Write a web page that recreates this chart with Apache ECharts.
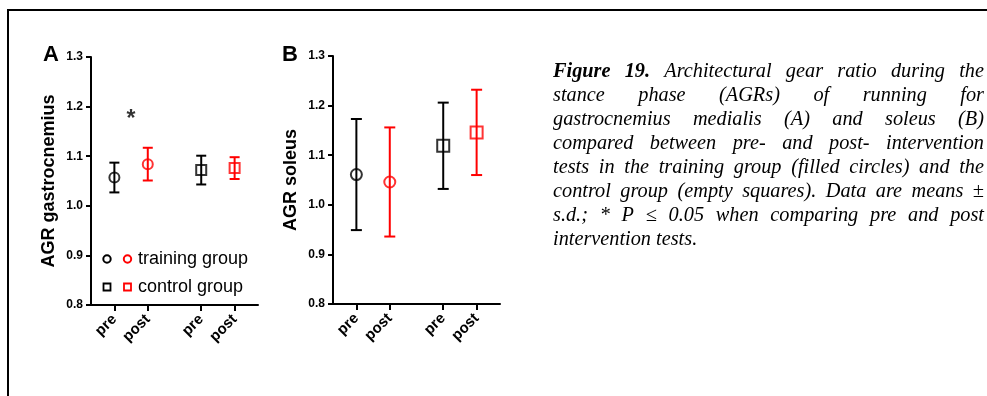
<!DOCTYPE html>
<html>
<head>
<meta charset="utf-8">
<script src="https://cdn.jsdelivr.net/npm/echarts@6/dist/echarts.min.js"></script>
<style>
  html, body { margin: 0; padding: 0; background: #ffffff; }
  #chart { width: 987px; height: 396px; }
</style>
</head>
<body>
<div id="chart"></div>
<script>
// Measurement occasions: training group pre/post, then control group pre/post
const categories = ['pre', 'post', 'pre', 'post'];
const groups = ['training', 'training', 'control', 'control'];

// Architectural gear ratio (AGR), means and standard deviations
const gastrocMean = [1.057, 1.084, 1.072, 1.076];
const gastrocSD   = [0.030, 0.033, 0.029, 0.022];
const soleusMean  = [1.061, 1.046, 1.119, 1.146];
const soleusSD    = [0.112, 0.110, 0.087, 0.086];

// Y axis ticks shared by both panels
const yTicks = [0.8, 0.9, 1.0, 1.1, 1.2, 1.3];

const panelLetters = ['A', 'B'];
const axisNames = ['AGR gastrocnemius', 'AGR soleus'];
const legendLabels = ['training group', 'control group'];
const significanceMark = '*';

const captionLines = [
  'Figure 19. Architectural gear ratio during the',
  'stance phase (AGRs) of running for',
  'gastrocnemius medialis (A) and soleus (B)',
  'compared between pre- and post- intervention',
  'tests in the training group (filled circles) and the',
  'control group (empty squares). Data are means \u00b1',
  's.d.; * P \u2264 0.05 when comparing pre and post',
  'intervention tests.'
];

// ---- styling ----
const BLACK = '#000000';
const RED = '#ff0000';
const phaseColor = { pre: BLACK, post: RED };
const groupSymbol = { training: 'circle', control: 'rect' };
const SANS = '"Liberation Sans", Arial, sans-serif';
const SERIF = '"Liberation Serif", "Times New Roman", serif';

// x positions of the four slots on a 0..5 axis (gap between the two groups)
const slot = [0.7, 1.7, 3.3, 4.3];

const panels = [
  { mean: gastrocMean, sd: gastrocSD, grid: { left: 91, top: 57, width: 167, height: 248 },
    symbolSize: { circle: 10, rect: 10 }, capHalf: 5 },
  { mean: soleusMean, sd: soleusSD, grid: { left: 333, top: 56, width: 167, height: 248 },
    symbolSize: { circle: 11, rect: 12 }, capHalf: 5.5 }
];

const grids = panels.map(p => p.grid);

const xAxes = panels.map((p, i) => ({
  type: 'value', gridIndex: i, min: 0, max: 5,
  splitLine: { show: false },
  axisLine: { show: true, onZero: false, lineStyle: { color: BLACK, width: 2 } },
  axisTick: { show: true, customValues: slot, length: 6, lineStyle: { color: BLACK, width: 2 } },
  axisLabel: {
    show: true, customValues: slot, rotate: 45, margin: 12,
    formatter: v => categories[slot.indexOf(v)] || '',
    color: BLACK, fontFamily: SANS, fontWeight: 'bold', fontSize: 15
  }
}));

const yAxes = panels.map((p, i) => ({
  type: 'value', gridIndex: i,
  min: yTicks[0], max: yTicks[yTicks.length - 1], interval: 0.1,
  splitLine: { show: false },
  axisLine: { show: true, lineStyle: { color: BLACK, width: 2 } },
  axisTick: { show: true, length: 5, lineStyle: { color: BLACK, width: 2 } },
  axisLabel: {
    margin: 8, formatter: v => v.toFixed(1),
    color: BLACK, fontFamily: SANS, fontWeight: 'bold', fontSize: 12
  },
  name: axisNames[i], nameLocation: 'middle', nameGap: 33,
  nameTextStyle: { color: BLACK, fontFamily: SANS, fontWeight: 'bold', fontSize: 18 }
}));

const series = [];
panels.forEach((p, i) => {
  // error bars: mean ± s.d. with caps
  series.push({
    type: 'custom', xAxisIndex: i, yAxisIndex: i, z: 2, silent: true,
    data: p.mean.map((m, k) => [slot[k], m - p.sd[k], m + p.sd[k], k]),
    encode: { x: 0, y: [1, 2] },
    renderItem: (params, api) => {
      const x = api.value(0);
      const lo = api.coord([x, api.value(1)]);
      const hi = api.coord([x, api.value(2)]);
      const color = phaseColor[categories[api.value(3)]];
      const style = { stroke: color, lineWidth: 2, fill: null };
      const c = p.capHalf;
      return {
        type: 'group',
        children: [
          { type: 'line', shape: { x1: hi[0], y1: hi[1], x2: lo[0], y2: lo[1] }, style },
          { type: 'line', shape: { x1: hi[0] - c, y1: hi[1], x2: hi[0] + c, y2: hi[1] }, style },
          { type: 'line', shape: { x1: lo[0] - c, y1: lo[1], x2: lo[0] + c, y2: lo[1] }, style }
        ]
      };
    }
  });
  // hollow markers at the means
  series.push({
    type: 'scatter', xAxisIndex: i, yAxisIndex: i, z: 3, silent: true,
    data: p.mean.map((m, k) => {
      const sym = groupSymbol[groups[k]];
      return {
        value: [slot[k], m],
        symbol: sym,
        symbolSize: p.symbolSize[sym],
        itemStyle: { color: 'rgba(0,0,0,0)', borderColor: phaseColor[categories[k]], borderWidth: 2 }
      };
    })
  });
});

// significance asterisk above the training group in panel A
series.push({
  type: 'scatter', xAxisIndex: 0, yAxisIndex: 0, silent: true,
  symbolSize: 1, itemStyle: { color: 'rgba(0,0,0,0)' },
  data: [[(slot[0] + slot[1]) / 2, gastrocMean[1] + gastrocSD[1] + 0.056]],
  label: {
    show: true, position: 'inside', formatter: significanceMark,
    color: BLACK, fontFamily: SANS, fontWeight: 'bold', fontSize: 23
  }
});

// ---- graphic elements: frame, panel letters, legend, caption ----
const graphics = [];
graphics.push({ type: 'line', shape: { x1: 8, y1: 10, x2: 987, y2: 10 }, style: { stroke: BLACK, lineWidth: 2 } });
graphics.push({ type: 'line', shape: { x1: 8, y1: 9, x2: 8, y2: 396 }, style: { stroke: BLACK, lineWidth: 2 } });

const letterPos = [[43, 55], [282, 55]];
panelLetters.forEach((t, i) => {
  graphics.push({
    type: 'text', x: letterPos[i][0], y: letterPos[i][1],
    style: { text: t, fill: BLACK, font: 'bold 22px ' + SANS, textAlign: 'left', textVerticalAlign: 'middle' }
  });
});

// legend inside panel A
const legendRows = [
  { y: 259, symbol: 'circle', label: legendLabels[0] },
  { y: 287, symbol: 'rect', label: legendLabels[1] }
];
legendRows.forEach(r => {
  [BLACK, RED].forEach((col, j) => {
    const cx = 107 + j * 20.5;
    if (r.symbol === 'circle') {
      graphics.push({ type: 'circle', shape: { cx, cy: r.y, r: 3.7 }, style: { fill: null, stroke: col, lineWidth: 2 } });
    } else {
      graphics.push({ type: 'rect', shape: { x: cx - 3.5, y: r.y - 3.5, width: 7, height: 7 }, style: { fill: null, stroke: col, lineWidth: 1.8 } });
    }
  });
  graphics.push({
    type: 'text', x: 138, y: r.y,
    style: { text: r.label, fill: BLACK, font: '18px ' + SANS, textAlign: 'left', textVerticalAlign: 'middle' }
  });
});

// justified italic caption
const CAP_LEFT = 553, CAP_RIGHT = 984, CAP_SIZE = 20.3, CAP_TOP = 72, CAP_STEP = 24;
const measureCtx = document.createElement('canvas').getContext('2d');
function capFont(bold) { return 'italic ' + (bold ? 'bold ' : '') + CAP_SIZE + 'px ' + SERIF; }
function wordWidth(w, bold) { measureCtx.font = capFont(bold); return measureCtx.measureText(w).width; }

captionLines.forEach((line, li) => {
  const words = line.split(' ');
  const bolds = words.map((w, wi) => li === 0 && wi < 2);
  const widths = words.map((w, wi) => wordWidth(w, bolds[wi]));
  const total = widths.reduce((a, b) => a + b, 0);
  const last = li === captionLines.length - 1;
  const gap = last ? wordWidth(' ', false) : (CAP_RIGHT - CAP_LEFT - total) / (words.length - 1);
  let x = CAP_LEFT;
  const y = CAP_TOP + li * CAP_STEP;
  words.forEach((w, wi) => {
    graphics.push({
      type: 'text', x, y,
      style: { text: w, fill: BLACK, font: capFont(bolds[wi]), textAlign: 'left', textVerticalAlign: 'middle' }
    });
    x += widths[wi] + gap;
  });
});

const chart = echarts.init(document.getElementById('chart'), null, { renderer: 'canvas' });
chart.setOption({
  animation: false,
  backgroundColor: '#ffffff',
  grid: grids,
  xAxis: xAxes,
  yAxis: yAxes,
  series,
  graphic: { elements: graphics }
});
</script>
</body>
</html>
